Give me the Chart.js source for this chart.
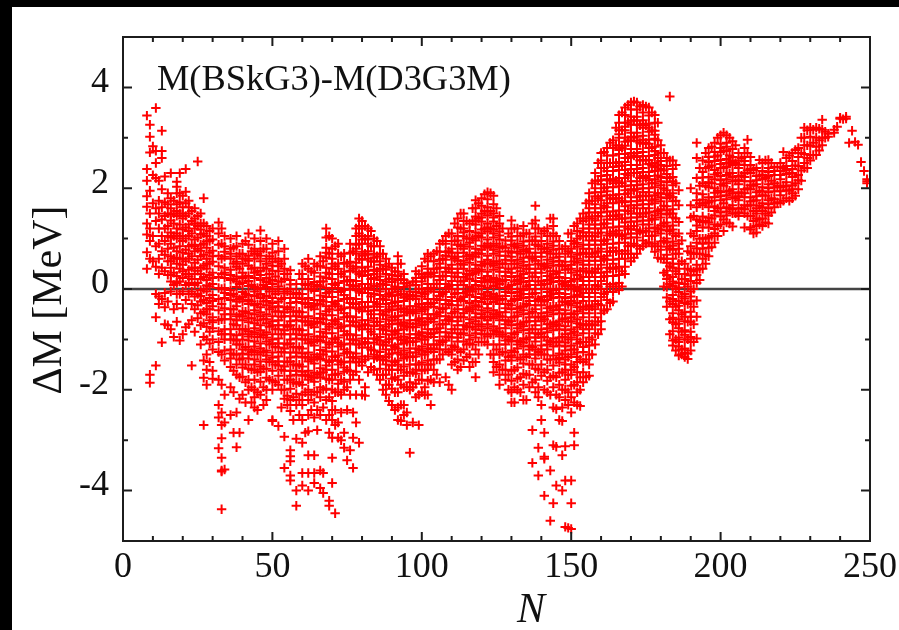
<!DOCTYPE html>
<html><head><meta charset="utf-8">
<script src="https://cdn.jsdelivr.net/npm/chart.js@4"></script>
<style>
html,body{margin:0;padding:0;background:#fff;width:899px;height:630px;overflow:hidden}
#w{position:absolute;left:0;top:0;width:899px;height:630px}
canvas{filter:blur(.4px)}
#t,#l{position:absolute;background:#000}
#t{left:0;top:0;width:899px;height:7px}
#l{left:0;top:0;width:12px;height:630px}
</style></head><body>
<div id="w"><canvas id="c" width="899" height="630"></canvas></div>
<div id="t"></div><div id="l"></div>
<script>
const xTickLabels=[0,50,100,150,200,250];
const yTickLabels=[-4,-2,0,2,4];
const noteText="M(BSkG3)-M(D3G3M)";
const xAxisText="N";
const yAxisText="ΔM [MeV]";
// each row: neutron number N, then the ΔM values read at that N
const bandA=[
[8,3.44,2.38,2.15,1.84,1.63,1.3,1.08,.73,.4],
[9,3.26,3.02,2.71,1.95,1.5,1.2,.95,.6,-1.7,-1.86],
[10,2.83,2.26,1.7,1.05,.55],
[11,3.59,2.74,2.5,2.2,1.6,1.35,.85,.44,-.1,-.56,-1.52],
[12,2.15,1.75,1.5,1.2,.9,.6,.3,-.15,-.3],
[13,3.14,2.74,2.6,1.98,1.62,1.38,1.05,.75,.42,-.2,-1.06],
[14,2.23,1.72,1.45,1.2,.95,.68,.35,-.08,-.36,-.7],
[15,1.9,1.68,1.5,1.25,1.05,.8,.55,.28,-.25,-.72],
[16,2.3,1.8,1.6,1.36,1.12,.9,.65,.42,.15,-.05,-.8],
[17,1.75,1.5,1.3,1.05,.82,.6,.32,.08,-.4,-.95],
[18,2.13,2.03,1.9,1.68,1.45,1.2,1,.75,.5,.26,-.1,-.3,-.65],
[19,2.3,1.9,1.72,1.5,1.28,1.05,.85,.6,.4,.15,-.1,-1.02],
[20,1.85,1.62,1.4,1.18,.95,.72,.48,.22,-.05,-.38,-.9],
[21,2.38,1.93,1.7,1.45,1.22,1,.78,.55,.3,.08,-.22,-.76],
[22,1.75,1.5,1.28,1.05,.85,.6,.38,.12,-.1,-.7],
[23,1.55,1.35,1.1,.88,.65,.42,.2,-.05,-.3,-.62,-1.52],
[24,1.6,1.4,1.2,.98,.75,.52,.3,.08,-.15,-.4,-.85],
[25,2.53,1.45,1.25,1.02,.8,.58,.36,.12,-.1,-.32,-.58],
[26,1.5,1.3,1.08,.88,.65,.42,.2,-.02,-.25,-.48,-.72,-1.1],
[27,1.8,1.3,1.1,.9,.68,.46,.24,0,-.22,-.45,-.68,-.95,-1.42,-1.76,-2.7],
[28,1.25,1.05,.82,.6,.4,.18,-.05,-.28,-.5,-.75,-1,-1.3,-1.6,-1.9],
[29,1.15,.95,.72,.5,.28,.05,-.18,-.4,-.62,-.85,-1.08,-1.45],
[30,1.2,.98,.76,.54,.32,.1,-.12,-.34,-.56,-.78,-1,-1.2,-1.62,-1.78],
[32,1.32,1.1,.88,.66,.45,.24,.02,-.2,-.42,-.62,-.84,-1.05,-1.25,-1.8,-2.3,-2.55,-3.16],
[33,1.2,.9,.6,.3,0,-.3,-.6,-.9,-1.3,-1.9,-2.45,-2.7,-2.96,-3.35,-3.6,-3.62,-4.37],
[34,1.05,.85,.64,.42,.22,.02,-.18,-.38,-.6,-.8,-1,-1.22,-1.42,-2.1,-2.65,-3.58],
[36,1,.8,.6,.38,.18,-.02,-.22,-.4,-.6,-.8,-1,-1.2,-1.38,-1.55,-1.95,-2.5],
[37,.82,.5,.2,-.1,-.4,-.7,-1,-1.3,-1.62,-2.05,-2.85],
[38,1.05,.85,.65,.44,.25,.04,-.15,-.34,-.54,-.72,-.92,-1.1,-1.3,-1.5,-1.7,-2.45,-3.14],
[39,.7,.4,.1,-.2,-.5,-.8,-1.1,-1.4,-1.75,-2.18,-2.85],
[40,.9,.7,.5,.32,.12,-.06,-.25,-.44,-.62,-.8,-1,-1.2,-1.38,-1.56,-1.74,-2.1],
[41,.95,.6,.25,-.1,-.45,-.8,-1.15,-1.5,-1.85,-2.25],
[42,1.1,.88,.66,.46,.26,.06,-.12,-.3,-.48,-.66,-.84,-1.02,-1.2,-1.38,-1.58,-1.8,-2,-2.6],
[43,.75,.4,.08,-.25,-.58,-.9,-1.25,-1.6,-1.95,-2.25],
[44,1,.8,.6,.42,.22,.04,-.14,-.32,-.5,-.68,-.86,-1.04,-1.22,-1.4,-1.6,-1.8,-2,-2.15,-2.35],
[45,.7,.35,.02,-.3,-.62,-.95,-1.3,-1.65,-2.05,-2.4],
[46,1.16,.95,.75,.55,.36,.18,0,-.18,-.36,-.54,-.72,-.9,-1.08,-1.26,-1.44,-1.64,-1.84,-2.1],
[47,.8,.42,.08,-.25,-.6,-.92,-1.25,-1.58,-1.95,-2.3],
[48,1,.8,.6,.4,.22,.04,-.14,-.32,-.5,-.68,-.86,-1.04,-1.22,-1.4,-1.58,-1.76,-2,-2.2],
[49,.65,.3,-.05,-.4,-.75,-1.1,-1.45,-1.8],
[50,.9,.72,.54,.36,.18,0,-.18,-.36,-.54,-.72,-.9,-1.08,-1.26,-1.44,-1.62,-1.82,-2,-2.6,-2.62],
[51,.6,.25,-.1,-.45,-.8,-1.15,-1.5,-1.85],
[52,.95,.75,.55,.35,.15,-.05,-.25,-.44,-.62,-.8,-.98,-1.16,-1.34,-1.52,-1.72,-1.9,-2.72],
[53,.5,.15,-.2,-.55,-.9,-1.25,-1.6,-2,-2.35],
[54,.8,.6,.4,.2,0,-.18,-.36,-.54,-.72,-.9,-1.08,-1.26,-1.44,-1.62,-1.8,-2,-2.18,-2.93,-3.55],
[55,.3,-.05,-.4,-.75,-1.1,-1.45,-1.8,-2.12,-2.3],
[56,.37,.18,0,-.18,-.36,-.54,-.72,-.9,-1.08,-1.26,-1.44,-1.62,-1.8,-1.98,-2.2,-2.42,-3.2,-3.32,-3.42,-3.7,-3.8],
[57,-.1,-.45,-.8,-1.15,-1.5,-1.85,-2.15,-2.6],
[58,.1,-.08,-.26,-.44,-.62,-.8,-.98,-1.16,-1.34,-1.52,-1.7,-1.88,-2.08,-2.3,-2.97,-4,-4.3],
[59,.3,-.1,-.45,-.8,-1.15,-1.5,-1.85,-2.2,-2.5],
[60,.5,.3,.1,-.1,-.28,-.46,-.64,-.82,-1,-1.18,-1.36,-1.54,-1.72,-1.9,-2.1,-2.3,-2.6,-3.05,-3.65,-3.9],
[61,.45,.08,-.3,-.65,-1,-1.35,-1.7,-2.05,-2.85],
[62,.6,.4,.2,0,-.18,-.36,-.54,-.72,-.9,-1.08,-1.26,-1.44,-1.62,-1.8,-2,-2.2,-2.5,-2.82,-3.3,-3.65,-4],
[63,.35,0,-.35,-.7,-1.05,-1.4,-1.75,-2.1,-2.4],
[64,.5,.32,.14,-.04,-.22,-.4,-.58,-.76,-.94,-1.12,-1.3,-1.48,-1.66,-1.84,-2.04,-2.25,-2.55,-3.3,-3.65,-3.85],
[65,.45,.08,-.3,-.65,-1,-1.35,-1.7,-2.05,-2.4,-2.8],
[66,.65,.45,.25,.05,-.13,-.31,-.49,-.67,-.85,-1.03,-1.21,-1.39,-1.57,-1.75,-1.95,-2.15,-2.5,-3.6,-3.95],
[67,.55,.15,-.25,-.6,-.95,-1.3,-1.65,-2,-2.35,-3.65,-4.05],
[68,1.2,1.02,.82,.62,.42,.22,.02,-.16,-.34,-.52,-.7,-.88,-1.06,-1.24,-1.42,-1.6,-1.78,-1.98,-2.2,-2.6],
[69,1.05,.7,.3,-.05,-.4,-.75,-1.1,-1.45,-1.8,-2.15,-2.5,-2.85,-4.2,-4.3],
[70,1,.8,.6,.4,.2,.02,-.16,-.34,-.52,-.7,-.88,-1.06,-1.24,-1.42,-1.6,-1.8,-2,-2.22,-2.4,-2.6,-2.95,-3.35,-3.85],
[71,.85,.45,.08,-.3,-.65,-1,-1.35,-1.7,-2.05,-2.4,-2.7,-4.45],
[72,.9,.7,.5,.3,.12,-.06,-.24,-.42,-.6,-.78,-.96,-1.14,-1.32,-1.5,-1.68,-1.88,-2.05,-2.65,-2.95],
[73,.65,.3,-.05,-.4,-.75,-1.1,-1.45,-1.8,-2.1,-2.45,-3],
[74,.7,.52,.34,.16,-.02,-.2,-.38,-.56,-.74,-.92,-1.1,-1.28,-1.46,-1.64,-1.84,-2,-2.85,-3.15],
[75,.5,.15,-.2,-.55,-.9,-1.25,-1.6,-1.95,-2.4,-3.4],
[76,.9,.72,.54,.36,.18,0,-.18,-.36,-.54,-.72,-.9,-1.08,-1.26,-1.44,-1.62,-1.8,-2.1,-3.2],
[77,.75,.4,.05,-.3,-.65,-1,-1.35,-1.7,-2.45,-2.95,-3.55],
[78,1.2,1.05,.88,.7,.52,.34,.16,-.02,-.2,-.38,-.56,-.74,-.92,-1.1,-1.28,-1.46,-1.64,-2.1,-2.65],
[79,1.4,1.25,1.1,.9,.6,.3,-.05,-.4,-.75,-1.1,-1.45,-1.8,-3.05],
[80,1.35,1.2,1.05,.9,.74,.58,.42,.26,.1,-.08,-.26,-.44,-.62,-.8,-.98,-1.16,-1.34,-1.52,-2.1],
[81,1.25,1,.7,.35,0,-.35,-.7,-1.05,-1.4,-1.95,-2.12],
[82,1.2,1.05,.9,.75,.6,.44,.28,.1,-.08,-.26,-.44,-.62,-.8,-.98,-1.16,-1.34,-1.65]
];
const bandB=[
[83,1.15,.85,.55,.2,-.15,-.5,-.85,-1.2,-1.55],
[84,1,.85,.7,.54,.38,.22,.06,-.1,-.26,-.42,-.58,-.74,-.9,-1.06,-1.22,-1.38,-1.6],
[85,.95,.65,.35,.05,-.3,-.65,-1,-1.35,-1.7],
[86,.85,.7,.55,.4,.25,.1,-.05,-.2,-.35,-.5,-.65,-.8,-.95,-1.1,-1.25,-1.4,-1.58,-1.8],
[87,.7,.4,.1,-.2,-.5,-.8,-1.1,-1.4,-1.7,-2],
[88,.6,.45,.3,.15,0,-.15,-.3,-.45,-.6,-.75,-.9,-1.05,-1.2,-1.35,-1.5,-1.7,-1.9,-2.1],
[89,.5,.2,-.1,-.4,-.7,-1,-1.3,-1.6,-1.9,-2.22],
[90,.42,.28,.14,0,-.14,-.28,-.42,-.56,-.7,-.84,-.98,-1.12,-1.28,-1.44,-1.6,-1.78,-1.98,-2.3],
[91,.35,.05,-.25,-.55,-.85,-1.15,-1.45,-1.75,-2.05,-2.4],
[92,.65,.5,.34,.18,.02,-.12,-.26,-.4,-.54,-.68,-.82,-.96,-1.1,-1.26,-1.42,-1.6,-1.8,-2.05,-2.35,-2.6],
[93,.5,.2,-.1,-.4,-.7,-1,-1.3,-1.6,-1.9,-2.3,-2.62],
[94,.3,.18,.04,-.1,-.24,-.38,-.52,-.66,-.8,-.94,-1.08,-1.22,-1.38,-1.54,-1.72,-1.95,-2.3,-2.5],
[95,.12,-.15,-.45,-.75,-1.05,-1.35,-1.65,-1.95,-2.45,-2.7],
[96,.07,-.05,-.2,-.34,-.48,-.62,-.76,-.9,-1.04,-1.18,-1.34,-1.5,-1.66,-1.85,-2,-3.25],
[97,.15,-.15,-.45,-.75,-1.05,-1.35,-1.65,-1.95,-2.65],
[98,.35,.22,.08,-.06,-.2,-.34,-.48,-.62,-.76,-.9,-1.04,-1.18,-1.34,-1.5,-1.68,-1.88,-2.15],
[99,.3,0,-.3,-.6,-.9,-1.2,-1.5,-1.8,-2.1,-2.7],
[100,.45,.3,.15,0,-.15,-.3,-.44,-.58,-.72,-.86,-1,-1.14,-1.3,-1.46,-1.62,-1.8,-2.05],
[101,.6,.25,-.1,-.4,-.7,-1,-1.3,-1.6,-1.95,-2.1],
[102,.7,.55,.4,.25,.1,-.05,-.2,-.35,-.5,-.65,-.8,-.95,-1.1,-1.25,-1.42,-1.6,-1.82,-2.1],
[103,.65,.3,0,-.3,-.6,-.9,-1.2,-1.5,-1.8,-2.3],
[104,.7,.55,.4,.25,.1,-.05,-.2,-.35,-.5,-.65,-.8,-.95,-1.1,-1.25,-1.4,-1.6,-1.85],
[105,.75,.4,.1,-.2,-.5,-.8,-1.1,-1.4,-1.7],
[106,.9,.74,.58,.42,.26,.1,-.06,-.22,-.38,-.54,-.7,-.86,-1.02,-1.2,-1.4,-1.85],
[107,.95,.6,.25,-.1,-.4,-.7,-1.05,-1.3],
[108,1.05,.9,.74,.58,.42,.26,.1,-.06,-.22,-.38,-.54,-.7,-.86,-1.02,-1.2,-1.75],
[109,1.1,.75,.4,.05,-.3,-.6,-.95,-1.25,-1.9],
[110,1.1,.95,.8,.64,.48,.32,.16,0,-.16,-.32,-.48,-.64,-.8,-.96,-1.12,-1.3,-1.5,-2],
[111,1.3,.95,.6,.25,-.1,-.45,-.8,-1.15,-1.45],
[112,1.4,1.22,1.05,.88,.72,.56,.4,.24,.08,-.08,-.24,-.4,-.56,-.72,-.88,-1.04,-1.2,-1.4,-1.6],
[113,1.5,1.2,.85,.5,.15,-.2,-.55,-.9,-1.25,-1.55],
[114,1.5,1.35,1.2,1.04,.88,.72,.56,.4,.24,.08,-.08,-.24,-.4,-.56,-.72,-.88,-1.04,-1.2,-1.42],
[115,1.35,1,.65,.3,-.05,-.4,-.75,-1.1,-1.35],
[116,1.3,1.15,1,.84,.68,.52,.36,.2,.04,-.12,-.28,-.44,-.6,-.76,-.92,-1.08,-1.3,-1.55],
[117,1.6,1.35,1,.65,.3,-.05,-.4,-.75,-1.1,-1.45],
[118,1.76,1.6,1.44,1.28,1.12,.96,.8,.64,.48,.32,.16,0,-.16,-.32,-.48,-.64,-.8,-.96,-1.2,-1.45,-1.75],
[119,1.7,1.4,1.05,.7,.35,0,-.35,-.7,-1.05,-1.3],
[120,1.8,1.65,1.5,1.34,1.18,1.02,.86,.7,.54,.38,.22,.06,-.1,-.26,-.42,-.58,-.74,-.9,-1.05],
[121,1.88,1.55,1.2,.85,.5,.15,-.2,-.55,-.9,-1.05],
[122,1.92,1.78,1.62,1.46,1.3,1.14,.98,.82,.66,.5,.34,.18,.02,-.14,-.3,-.46,-.62,-.78,-.94,-1.1],
[123,1.9,1.55,1.2,.85,.5,.15,-.2,-.55,-.9,-1.3],
[124,1.85,1.68,1.5,1.34,1.18,1.02,.86,.7,.54,.38,.22,.06,-.1,-.26,-.42,-.58,-.74,-.9,-1.1,-1.3,-1.45,-1.65],
[125,1.6,1.25,.9,.55,.2,-.15,-.5,-.85,-1.2,-1.55],
[126,1.45,1.3,1.14,.98,.82,.66,.5,.34,.18,.02,-.14,-.3,-.46,-.62,-.78,-.94,-1.1,-1.3,-1.5,-1.7,-1.9],
[127,1.2,.85,.5,.15,-.2,-.55,-.9,-1.25,-1.6],
[128,.96,.82,.66,.5,.34,.18,.02,-.14,-.3,-.46,-.62,-.78,-.94,-1.1,-1.26,-1.42,-1.6,-1.8],
[129,1.1,.75,.4,.05,-.3,-.65,-1,-1.35,-1.7,-2],
[130,1.36,1.2,1.04,.88,.72,.56,.4,.24,.08,-.08,-.24,-.4,-.56,-.72,-.88,-1.04,-1.22,-1.42,-1.62,-1.82,-2.05,-2.25],
[131,1.2,.85,.5,.15,-.2,-.55,-.9,-1.25,-1.6,-1.95,-2.25],
[132,1.2,1.05,.9,.74,.58,.42,.26,.1,-.06,-.22,-.38,-.54,-.7,-.86,-1.02,-1.18,-1.36,-1.56,-1.78,-2],
[133,1.05,.7,.35,0,-.35,-.7,-1.05,-1.4,-1.75,-2.05],
[134,1.25,1.1,.94,.78,.62,.46,.3,.14,-.02,-.18,-.34,-.5,-.66,-.82,-.98,-1.14,-1.3,-1.48,-1.68,-1.9,-2.2],
[135,1.1,.75,.4,.05,-.3,-.65,-1,-1.35,-1.7,-2.2],
[136,1.1,.96,.8,.64,.48,.32,.16,0,-.16,-.32,-.48,-.64,-.8,-.96,-1.12,-1.3,-1.5,-1.7,-1.95],
[137,1.3,.95,.6,.25,-.1,-.45,-.8,-1.15,-1.5,-1.85,-2.8,-3.45],
[138,1.65,1.36,1.2,1.04,.88,.72,.56,.4,.24,.08,-.08,-.24,-.4,-.56,-.72,-.88,-1.04,-1.2,-1.38,-1.58,-1.8,-2.05],
[139,1.2,.85,.5,.15,-.2,-.55,-.9,-1.25,-1.6,-1.95,-2.15,-3.15,-3.7],
[140,1.1,.95,.8,.64,.48,.32,.16,0,-.16,-.32,-.48,-.64,-.8,-.96,-1.12,-1.3,-1.5,-1.72,-2.3,-2.6],
[141,1.15,.8,.45,.1,-.25,-.6,-.95,-1.3,-1.65,-2,-2.85,-3.33,-3.37,-4.1],
[142,1.2,1.05,.9,.74,.58,.42,.26,.1,-.06,-.22,-.38,-.54,-.7,-.86,-1.02,-1.2,-1.4,-1.6,-1.82,-2.05],
[143,1.4,1.05,.7,.35,0,-.35,-.7,-1.05,-1.4,-1.75,-2.1,-3.6,-4.6],
[144,1.4,1.25,1.1,.94,.78,.62,.46,.3,.14,-.02,-.18,-.34,-.5,-.66,-.82,-.98,-1.14,-1.32,-1.52,-1.72,-1.95,-2.35,-3.1,-4.25],
[145,1.05,.7,.35,0,-.35,-.7,-1.05,-1.4,-1.75,-2.1,-2.38,-3.13,-3.9],
[146,.95,.8,.64,.48,.32,.16,0,-.16,-.32,-.48,-.64,-.8,-.96,-1.12,-1.28,-1.46,-1.66,-1.9,-2.15,-2.6],
[147,.8,.45,.1,-.25,-.6,-.95,-1.3,-1.65,-2,-2.35,-2.62,-3.3,-4],
[148,.85,.7,.54,.38,.22,.06,-.1,-.26,-.42,-.58,-.74,-.9,-1.06,-1.22,-1.4,-1.6,-1.8,-2,-2.2,-3.12,-3.8,-4.72],
[149,1.1,.75,.4,.05,-.3,-.65,-1,-1.35,-1.7,-2.05,-2.3,-4.74],
[150,1.1,.95,.8,.64,.48,.32,.16,0,-.16,-.32,-.48,-.64,-.8,-.96,-1.12,-1.3,-1.5,-1.7,-1.92,-2.15,-2.45,-3.8,-4.25,-4.76],
[151,1.25,.9,.55,.2,-.15,-.5,-.85,-1.2,-1.55,-1.9,-2.25,-2.85,-3.1],
[152,1.3,1.15,1,.84,.68,.52,.36,.2,.04,-.12,-.28,-.44,-.6,-.76,-.92,-1.08,-1.26,-1.45,-1.65,-1.85,-2.05,-2.3],
[153,1.4,1.05,.7,.35,0,-.35,-.7,-1.05,-1.4,-1.75,-2,-2.32],
[154,1.5,1.35,1.2,1.04,.88,.72,.56,.4,.24,.08,-.08,-.24,-.4,-.56,-.72,-.88,-1.05,-1.25,-1.45,-1.65,-1.85],
[155,1.7,1.4,1.05,.7,.35,0,-.35,-.7,-1.05,-1.4,-1.75],
[156,1.9,1.75,1.6,1.44,1.28,1.12,.96,.8,.64,.48,.32,.16,0,-.16,-.32,-.48,-.64,-.8,-.96,-1.12,-1.3,-1.5,-1.72]
];
const bandC=[
[157,2.1,1.75,1.4,1.05,.7,.35,0,-.35,-.7,-1,-1.3],
[158,2.3,2.15,2,1.84,1.68,1.52,1.36,1.2,1.04,.88,.72,.56,.4,.24,.08,-.08,-.24,-.4,-.56,-.72,-.88,-1.1],
[159,2.5,2.15,1.8,1.45,1.1,.75,.4,.05,-.3,-.65,-.9],
[160,2.7,2.55,2.4,2.24,2.08,1.92,1.76,1.6,1.44,1.28,1.12,.96,.8,.64,.48,.32,.16,0,-.16,-.32,-.48,-.64,-.8],
[161,2.72,2.4,2,1.65,1.3,.95,.6,.25,-.1,-.43],
[162,2.8,2.65,2.5,2.34,2.18,2.02,1.86,1.7,1.54,1.38,1.22,1.06,.9,.74,.58,.42,.26,.1,-.06,-.22,-.4],
[163,2.9,2.5,2.15,1.8,1.45,1.1,.75,.4,.05,-.28],
[164,2.95,2.8,2.65,2.5,2.34,2.18,2.02,1.86,1.7,1.54,1.38,1.22,1.06,.9,.74,.58,.42,.26,.1,-.06,-.25],
[165,3.2,2.85,2.5,2.15,1.8,1.45,1.1,.75,.4,.05],
[166,3.45,3.3,3.15,3,2.84,2.68,2.52,2.36,2.2,2.04,1.88,1.72,1.56,1.4,1.24,1.08,.92,.76,.6,.44,.28,.12,-.02],
[167,3.5,3.15,2.8,2.45,2.1,1.75,1.4,1.05,.7,.35,.05],
[168,3.6,3.45,3.3,3.15,3,2.84,2.68,2.52,2.36,2.2,2.04,1.88,1.72,1.56,1.4,1.24,1.08,.92,.76,.6,.44,.3],
[169,3.65,3.3,2.95,2.6,2.25,1.9,1.55,1.2,.85,.7],
[170,3.7,3.56,3.42,3.26,3.1,2.94,2.78,2.62,2.46,2.3,2.14,1.98,1.82,1.66,1.5,1.34,1.18,1.02,.86,.7,.55],
[171,3.72,3.35,3,2.65,2.3,1.95,1.6,1.25,.9,.62],
[172,3.7,3.56,3.42,3.26,3.1,2.94,2.78,2.62,2.46,2.3,2.14,1.98,1.82,1.66,1.5,1.34,1.18,1.02,.86,.7],
[173,3.62,3.25,2.9,2.55,2.2,1.85,1.5,1.15,.8],
[174,3.65,3.5,3.35,3.2,3.04,2.88,2.72,2.56,2.4,2.24,2.08,1.92,1.76,1.6,1.44,1.28,1.12,.96,.85],
[175,3.62,3.25,2.9,2.55,2.2,1.85,1.5,1.15,.9],
[176,3.6,3.44,3.28,3.12,2.96,2.8,2.64,2.48,2.32,2.16,2,1.84,1.68,1.52,1.36,1.2,1.05,.93],
[177,3.5,3.15,2.8,2.45,2.1,1.75,1.4,1.05,.85],
[178,3.45,3.3,3.14,2.98,2.82,2.66,2.5,2.34,2.18,2.02,1.86,1.7,1.54,1.38,1.22,1.06,.9,.74],
[179,3.3,2.95,2.6,2.25,1.9,1.55,1.2,.85,.62],
[180,2.85,2.7,2.54,2.38,2.22,2.06,1.9,1.74,1.58,1.42,1.26,1.1,.94,.78,.6],
[181,2.7,2.35,2,1.65,1.3,.95,.6,.32,.05],
[182,2.6,2.44,2.28,2.12,1.96,1.8,1.64,1.48,1.32,1.16,1,.84,.68,.52,.36,.2,.04,-.17,-.35],
[183,3.82,2.55,2.2,1.85,1.5,1.15,.8,.45,.1,-.25,-.6,-.9],
[184,2.55,2.38,2.22,2.06,1.9,1.74,1.58,1.42,1.26,1.1,.94,.78,.6,.42,.24,.06,-.12,-.3,-.48,-.66,-.84,-1.02,-1.12],
[185,2.46,2.1,1.75,1.4,1.05,.7,.35,0,-.35,-.7,-1,-1.22],
[186,1.96,1.66,1.33,1.1,.9,.7,.5,.3,.12,-.06,-.24,-.42,-.6,-.78,-.96,-1.14,-1.32],
[187,.96,.55,.2,-.15,-.5,-.85,-1.2,-1.3],
[188,.5,.3,.1,-.1,-.28,-.46,-.64,-.82,-1,-1.18,-1.35],
[189,.75,.4,.05,-.3,-.65,-1,-1.28,-1.39],
[190,2,1.66,1.42,1.1,.85,.6,.38,.16,-.05,-.25,-.45,-.65,-.85,-1.05,-1.22],
[191,1.45,1.05,.7,.35,0,-.35,-.7,-1.05],
[192,2.9,2.6,2.2,1.9,1.62,1.38,1.15,.92,.7,.48,.28,.12,-.23,-.55,-.98],
[193,2.4,2.05,1.7,1.35,1,.7,.4,.18],
[194,2.55,2.32,2.1,1.88,1.66,1.44,1.22,1,.8,.6,.4],
[195,2.7,2.4,2.05,1.7,1.35,1,.68,.5],
[196,2.8,2.62,2.42,2.22,2.02,1.82,1.62,1.42,1.22,1.02,.82,.65],
[197,2.82,2.45,2.1,1.75,1.4,1.05,.83],
[198,2.9,2.72,2.54,2.36,2.18,2,1.82,1.64,1.46,1.28,1.1,.92],
[199,3,2.65,2.3,1.95,1.6,1.25,1.05],
[200,3.05,2.88,2.72,2.56,2.4,2.24,2.08,1.92,1.76,1.6,1.44,1.28],
[201,3.1,2.75,2.4,2.05,1.7,1.38,1.15],
[202,3.05,2.9,2.74,2.58,2.42,2.26,2.1,1.94,1.78,1.62,1.46,1.32],
[203,3,2.65,2.3,1.95,1.6,1.3],
[204,2.93,2.78,2.62,2.46,2.3,2.14,1.98,1.82,1.66,1.5,1.24],
[205,2.85,2.5,2.15,1.8,1.5],
[206,2.7,2.55,2.4,2.24,2.08,1.92,1.76,1.6,1.45],
[207,2.6,2.25,1.9,1.6],
[208,2.8,2.62,2.46,2.3,2.14,1.98,1.82,1.66,1.5,1.22],
[209,2.96,2.7,2.35,2,1.65,1.45],
[210,2.62,2.46,2.3,2.14,1.98,1.82,1.66,1.45,1.22,1.18],
[211,2.36,2.05,1.75,1.55,1.35,1.1],
[212,2.4,2.24,2.08,1.92,1.76,1.6,1.4,1.25,1.12],
[213,2.56,2.25,1.95,1.65,1.38,1.28],
[214,2.5,2.34,2.18,2.02,1.86,1.7,1.55,1.4,1.25],
[215,2.55,2.2,1.85,1.5,1.32],
[216,2.56,2.4,2.24,2.08,1.92,1.76,1.6,1.46,1.3],
[217,2.5,2.15,1.8,1.52],
[218,2.42,2.26,2.1,1.94,1.78,1.62],
[219,2.42,2.05,1.72],
[220,2.5,2.34,2.18,2.02,1.86,1.7],
[221,2.72,2.4,2.05,1.75],
[222,2.6,2.44,2.28,2.12,1.96,1.8],
[223,2.65,2.3,1.95,1.75],
[224,2.7,2.54,2.38,2.22,2.06,1.9,1.8],
[225,2.76,2.45,2.1,1.85],
[226,2.8,2.62,2.44,2.26,2.16,1.98],
[227,3,2.7,2.35,2.15],
[228,3.2,3,2.85,2.68,2.5,2.4],
[229,3.15,2.85,2.6,2.4],
[230,3.2,3.02,2.84,2.66,2.55],
[231,3.16,2.9,2.66],
[232,3.2,3,2.82,2.66],
[233,3.18,2.95,2.75],
[234,3.36,3.16,3,2.85],
[235,3.12,3],
[236,3.08,3.02],
[238,3.16,3.1],
[239,3.22],
[240,3.4,3.38],
[241,3.37],
[242,3.42,3.38],
[243,2.9],
[244,3.14],
[245,2.92],
[246,2.86],
[247,2.52],
[248,2.34],
[249,2.14,2.18,2.1],
[250,2.15]
];
// second reading of the densest part of the cloud
const bandCore=[
[16,1.48,1.02,.55,.28],[18,1.55,1.1,.62,.12],[20,1.5,1.05,.6,.35],[22,1.62,1.15,.7,.25],[24,1.3,.85,.42],[26,1.18,.76,.3,-.14],[28,.94,.5,.07,-.4],[30,.65,.22,-.24,-.66],
[34,.74,.32,-.08,-.5,-.9],[36,.7,.28,-.12,-.5,-.9,-1.28],[38,.54,.15,-.25,-.62,-1.02],[40,.6,.22,-.16,-.54,-.9,-1.28],[42,.56,.16,-.22,-.58,-.94,-1.3],[44,.7,.32,-.05,-.42,-.78,-1.14,-1.5],[46,.66,.28,-.1,-.46,-.82,-1.18,-1.54],[48,.5,.14,-.24,-.6,-.96,-1.32],
[50,.46,.1,-.28,-.64,-1,-1.36],[52,.45,.05,-.34,-.72,-1.08,-1.44],[54,.3,-.09,-.46,-.82,-1.18,-1.54],[56,.09,-.28,-.64,-1,-1.36,-1.72],[58,-.18,-.54,-.9,-1.26,-1.62],[60,.2,-.2,-.56,-.92,-1.28,-1.64],[62,.1,-.28,-.64,-1,-1.36,-1.72],[64,.05,-.32,-.68,-1.04,-1.4,-1.76],[66,.15,-.22,-.58,-.94,-1.3,-1.66],[68,.72,.32,-.08,-.44,-.8,-1.16,-1.52],
[70,.5,.1,-.26,-.62,-.98,-1.34,-1.7],[72,.4,.02,-.34,-.7,-1.06,-1.42],[74,.25,-.12,-.48,-.84,-1.2,-1.56],[76,.45,.08,-.28,-.64,-1,-1.36],[78,.8,.44,.06,-.3,-.66,-1.02,-1.38],[80,.98,.66,.34,0,-.36,-.72,-1.08,-1.44],[82,.98,.68,.36,.02,-.36,-.72,-1.08],[84,.62,.3,-.02,-.34,-.66,-.98,-1.3],[86,.48,.18,-.12,-.42,-.72,-1.02,-1.33],[88,.38,.08,-.22,-.52,-.82,-1.12,-1.42],
[90,.21,-.07,-.35,-.63,-.91,-1.2,-1.52],[92,.26,-.05,-.33,-.61,-.89,-1.18,-1.5],[94,.11,-.17,-.45,-.73,-1.01,-1.3],[96,-.12,-.41,-.69,-.97,-1.26],[98,.15,-.13,-.41,-.69,-.97,-1.26,-1.6],[100,.22,-.08,-.37,-.65,-.93,-1.22],[102,.32,.02,-.28,-.58,-.88,-1.18,-1.5],[104,.32,.02,-.28,-.58,-.88,-1.18],[106,.5,.18,-.14,-.46,-.78,-1.1],[108,.66,.34,.02,-.3,-.62,-.94],
[110,.72,.4,.08,-.24,-.56,-.88,-1.2],[112,.96,.64,.32,0,-.32,-.64,-.96],[114,1.12,.8,.48,.16,-.16,-.48,-.8],[116,.92,.6,.28,-.04,-.36,-.68,-1],[118,1.36,1.04,.72,.4,.08,-.24,-.56,-.88],[120,1.42,1.1,.78,.46,.14,-.18,-.5,-.82],[122,1.54,1.22,.9,.58,.26,-.06,-.38,-.7],[124,1.42,1.1,.78,.46,.14,-.18,-.5,-.82],[126,1.06,.74,.42,.1,-.22,-.54,-.86],[128,.58,.26,-.06,-.38,-.7,-1.02],
[130,.96,.64,.32,0,-.32,-.64,-.96,-1.32],[132,.82,.5,.18,-.14,-.46,-.78,-1.1],[134,.86,.54,.22,-.1,-.42,-.74,-1.06],[136,.72,.4,.08,-.24,-.56,-.88,-1.2],[138,.96,.64,.32,0,-.32,-.64,-.96,-1.3],[140,.72,.4,.08,-.24,-.56,-.88,-1.2],[142,.82,.5,.18,-.14,-.46,-.78,-1.1],[144,.86,.54,.22,-.1,-.42,-.74,-1.06],[146,.56,.24,-.08,-.4,-.72,-1.04,-1.37],[148,.46,.14,-.18,-.5,-.82,-1.14,-1.5],
[150,.72,.4,.08,-.24,-.56,-.88,-1.2,-1.6],[152,.92,.6,.28,-.04,-.36,-.68,-1,-1.35],[154,1.12,.8,.48,.16,-.16,-.48,-.8,-1.15],[156,1.52,1.2,.88,.56,.24,-.08,-.4,-.72],[158,1.92,1.6,1.28,.96,.64,.32,0],[160,2.16,1.84,1.52,1.2,.88,.56,.24],[162,2.26,1.94,1.62,1.3,.98,.66,.34],[164,2.42,2.1,1.78,1.46,1.14,.82,.5],[166,3.07,2.76,2.44,2.12,1.8,1.48,1.16],[168,3.22,2.92,2.6,2.28,1.96,1.64,1.32,1],
[170,3.34,3.02,2.7,2.38,2.06,1.74,1.42,1.1],[172,3.34,3.02,2.7,2.38,2.06,1.74,1.42,1.1],[174,3.28,2.96,2.64,2.32,2,1.68,1.36],[176,3.2,2.88,2.56,2.24,1.92,1.6,1.28],[178,3.06,2.74,2.42,2.1,1.78,1.46,1.14],[180,2.46,2.14,1.82,1.5,1.18],[182,2.2,1.88,1.56,1.24,.92,.6,.28],[184,2.14,1.82,1.5,1.18,.86,.5,.15,-.2,-.57],
[186,.8,.4,.03,-.33,-.69,-1.05],[188,.2,-.19,-.55,-.91,-1.27],[190,.72,.27,-.15,-.55,-.95],[192,1.76,1.26,.81,.38],[194,2.21,1.77,1.33,.9],[196,2.52,2.12,1.72,1.32,.92],[198,2.63,2.27,1.91,1.55,1.19],[200,2.8,2.48,2.16,1.84,1.52],[202,2.82,2.5,2.18,1.86,1.54],[204,2.54,2.22,1.9,1.58],[206,2.47,2.16,1.84,1.52],[208,2.54,2.22,1.9,1.58],[210,2.38,2.06,1.74],[212,2.16,1.84,1.5],[214,2.26,1.94,1.62],[216,2.32,2,1.68],[218,2.34,2.02,1.7],[220,2.26,1.94],[222,2.36,2.04],[224,2.3,1.98]
];
const rows=[...bandA,...bandB,...bandC,...bandCore];
const points=rows.flatMap(r=>r.slice(1).map(v=>({x:r[0],y:v})));
const zeroLine=[{x:0,y:0},{x:250,y:0}];
const frame={
  id:'frame',
  afterDatasetsDraw(ch){
    const {ctx,chartArea:a,scales:{x,y}}=ch;
    ctx.save();
    ctx.strokeStyle='#1c1c1c';ctx.lineWidth=2;
    ctx.strokeRect(a.left,a.top,a.right-a.left,a.bottom-a.top);
    ctx.beginPath();
    x.ticks.forEach(t=>{const p=x.getPixelForValue(t.value),L=t.value%50===0?9:5;
      ctx.moveTo(p,a.bottom);ctx.lineTo(p,a.bottom-L);ctx.moveTo(p,a.top);ctx.lineTo(p,a.top+L);});
    y.ticks.forEach(t=>{const p=y.getPixelForValue(t.value),L=t.value%2===0?9:5;
      ctx.moveTo(a.left,p);ctx.lineTo(a.left+L,p);ctx.moveTo(a.right,p);ctx.lineTo(a.right-L,p);});
    ctx.stroke();
    ctx.fillStyle='#111';ctx.textBaseline='alphabetic';
    ctx.font='36.4px "Liberation Serif"';ctx.textAlign='left';
    ctx.fillText(noteText,157,90);
    ctx.font='italic 42px "Liberation Serif"';ctx.textAlign='center';
    ctx.fillText(xAxisText,531,622);
    ctx.translate(61,300);ctx.rotate(-Math.PI/2);
    ctx.font='42px "Liberation Serif"';
    ctx.fillText(yAxisText,0,0);
    ctx.restore();
  }
};
new Chart(document.getElementById('c'),{
  type:'scatter',
  data:{datasets:[
    {type:'line',label:'zero',data:zeroLine,borderColor:'#454545',borderWidth:2.6,pointRadius:0,order:2},
    {label:'ΔM',data:points,pointStyle:'cross',pointRadius:4.7,borderColor:'#ff0000',backgroundColor:'#ff0000',pointBorderWidth:2,order:1}
  ]},
  plugins:[frame],
  options:{
    responsive:false,animation:false,
    layout:{autoPadding:false,padding:{left:0,right:29,top:37,bottom:0}},
    plugins:{legend:{display:false},tooltip:{enabled:false}},
    scales:{
      x:{type:'linear',min:0,max:250,
        afterFit(s){s.height=89;},
        grid:{display:false},border:{display:false},
        ticks:{stepSize:10,autoSkip:false,maxRotation:0,padding:-3,color:'#111',
          font:{family:'"Liberation Serif"',size:36},
          callback:v=>xTickLabels.includes(v)?String(v):''}},
      y:{type:'linear',min:-5,max:5,
        afterFit(s){s.width=123;},
        grid:{display:false},border:{display:false},
        ticks:{stepSize:1,autoSkip:false,padding:6,labelOffset:-5,color:'#111',
          font:{family:'"Liberation Serif"',size:36},
          callback:v=>yTickLabels.includes(v)?String(v):''}}
    }
  }
});
</script>
</body></html>
